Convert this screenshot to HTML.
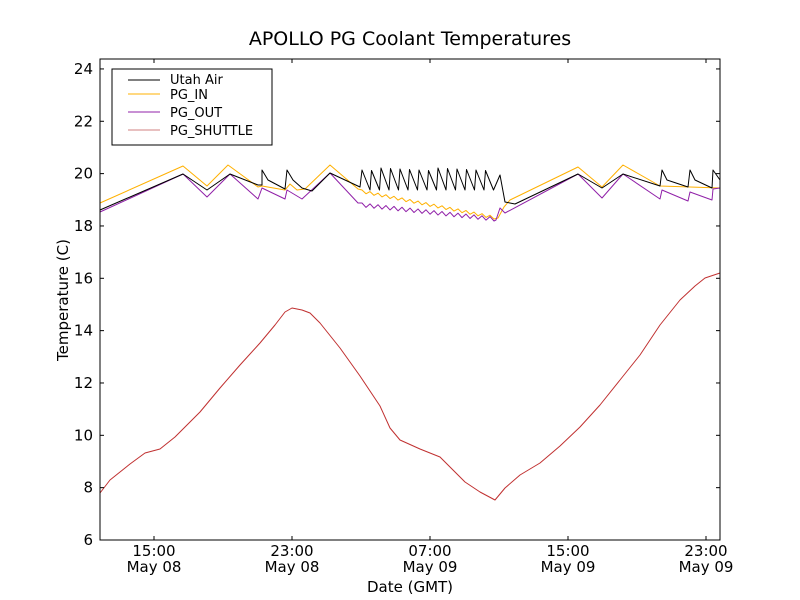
<!DOCTYPE html>
<html><head><meta charset="utf-8"><style>
body{margin:0;background:#fff}
svg{display:block;font-family:"DejaVu Sans","Liberation Sans",sans-serif}
</style></head><body>
<svg id="s" width="800" height="600" xmlns="http://www.w3.org/2000/svg">
<rect width="800" height="600" fill="#fff"/>
<text x="410" y="45" font-size="19" text-anchor="middle">APOLLO PG Coolant Temperatures</text>
<g id="plot" fill="none" stroke-width="1" stroke-linejoin="round"></g>
<rect x="100" y="59" width="620" height="481" fill="none" stroke="#000" stroke-width="1"/>
<g id="ticks" stroke="#000"></g>
<g id="labels" font-size="15"></g>
<text x="410" y="592" font-size="15" text-anchor="middle">Date (GMT)</text>
<text transform="translate(68,300) rotate(-90)" font-size="15" text-anchor="middle">Temperature (C)</text>
<g>
<rect x="112" y="69" width="160" height="76" fill="#fff" stroke="#000"/>
<line x1="128" y1="80" x2="160" y2="80" stroke="#000"/>
<line x1="128" y1="94" x2="160" y2="94" stroke="#ffb000"/>
<line x1="128" y1="112" x2="160" y2="112" stroke="#9020a8"/>
<line x1="128" y1="130" x2="160" y2="130" stroke="#d08080"/>
<g font-size="13"><text x="170" y="84">Utah Air</text><text x="170" y="99">PG_IN</text><text x="170" y="117">PG_OUT</text><text x="170" y="135">PG_SHUTTLE</text></g>
</g>
</svg>
<script>
const NS="http://www.w3.org/2000/svg";
function el(p,t,a,txt){const e=document.createElementNS(NS,t);for(const k in a)e.setAttribute(k,a[k]);if(txt)e.textContent=txt;document.getElementById(p).appendChild(e);}
for(let v=6;v<=24;v+=2){const y=540-(v-6)*26.17;
 el('ticks','line',{x1:100,y1:y,x2:104,y2:y});el('ticks','line',{x1:716,y1:y,x2:720,y2:y});
 el('labels','text',{x:93,y:y+5,'text-anchor':'end'},String(v));}
const xt=[[154,'15:00','May 08'],[292,'23:00','May 08'],[430,'07:00','May 09'],[568,'15:00','May 09'],[706,'23:00','May 09']];
for(const [x,a,b] of xt){el('ticks','line',{x1:x,y1:540,x2:x,y2:536});el('ticks','line',{x1:x,y1:59,x2:x,y2:63});
 el('labels','text',{x:x,y:556,'text-anchor':'middle'},a);el('labels','text',{x:x,y:572,'text-anchor':'middle'},b);}
let zz="";for(let x=362;x<495;x+=9.5){zz+=` L${x},${168+((x*7)%3)}`+` L${x+8},190`;}
const black="M100,210 L183,174 L207,190 L230,174 L258,185 L262,185 L262,170 L268,180 L285,189 L287,170 L293,180 L302,188 L312,191 L330,173 L360,187"+zz+" L500,175 L505,202 L515,204 L578,174 L602,188 L623,174 L660,186 L662,170 L667,180 L688,187 L690,170 L695,180 L712,188 L713,170 L720,180";
let ow="",pw="",i=0;for(let x=362;x<=494;x+=4,i++){const t=(x-362)/132;const yo=191+t*26, yp=205+t*14;ow+=` L${x},${yo+(i%2?2:-1)}`;pw+=` L${x},${yp+(i%2?2:-2)}`;}
const orange="M100,203 L183,166 L207,186 L228,165 L258,187 L262,186 L285,190 L290,184 L297,190 L305,189 L330,165 L358,189"+ow+" L498,218 L504,207 L510,200 L578,167 L602,187 L623,165 L660,186 L720,188";
const purple="M100,212 L183,174 L207,197 L230,174 L258,199 L262,188 L285,199 L287,190 L302,199 L330,173 L358,203"+pw+" L496,220 L500,208 L505,213 L578,174 L602,198 L623,174 L660,199 L662,190 L688,201 L690,192 L712,200 L713,189 L720,188";
const red="M100,493 L110,480 L130,464 L145,453 L160,449 L175,437 L200,412 L220,388 L240,365 L260,343 L275,325 L285,312 L292,308 L302,310 L310,313 L320,323 L340,348 L360,376 L380,406 L390,428 L400,440 L420,449 L440,457 L450,467 L465,482 L480,492 L495,500 L505,488 L520,475 L540,463 L560,446 L580,427 L600,405 L620,380 L640,355 L660,325 L680,300 L695,286 L705,278 L720,273";
el('plot','path',{d:red,stroke:'#c03030'});
el('plot','path',{d:orange,stroke:'#ffb000'});
el('plot','path',{d:purple,stroke:'#9020a8'});
el('plot','path',{d:black,stroke:'#000'});
</script>
</body></html>
